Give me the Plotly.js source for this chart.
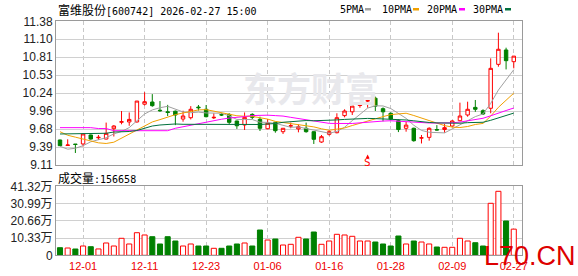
<!DOCTYPE html>
<html><head><meta charset="utf-8">
<script src="https://cdn.plot.ly/plotly-3.0.1.min.js"></script>
<style>html,body{margin:0;padding:0;background:#fff;}#chart{width:578px;height:276px;}</style>
</head><body><div id="chart"></div>
<script>
const dates = ['11-26','11-27','11-28','12-01','12-02','12-03','12-04','12-05','12-08','12-09','12-10','12-11','12-12','12-15','12-16','12-17','12-18','12-19','12-22','12-23','12-24','12-25','12-26','12-29','12-30','12-31','01-05','01-06','01-07','01-08','01-09','01-12','01-13','01-14','01-15','01-16','01-19','01-20','01-21','01-22','01-23','01-26','01-27','01-28','01-29','01-30','02-02','02-03','02-04','02-05','02-06','02-09','02-10','02-11','02-12','02-13','02-24','02-25','02-26','02-27'];
const openP = [9.505,9.418,9.44,9.442,9.584,9.54,9.52,9.683,9.785,9.79,9.79,10.07,10.105,9.975,9.95,9.96,9.836,9.857,10.025,9.99,9.855,9.905,9.91,9.805,9.742,9.91,9.832,9.683,9.785,9.636,9.725,9.68,9.69,9.636,9.473,9.595,9.62,9.89,9.95,10.05,10.12,10.165,10.0,9.927,9.81,9.69,9.69,9.535,9.547,9.67,9.67,9.726,9.81,9.90,10.02,9.968,10.006,10.70,10.927,10.742];
const highP = [9.51,9.516,9.44,9.60,9.59,9.584,9.78,9.74,9.963,9.94,10.12,10.26,10.23,10.12,10.06,9.97,9.968,10.04,10.058,10.058,9.927,9.927,9.927,9.81,9.94,9.927,9.873,9.836,9.79,9.69,9.78,9.75,9.78,9.64,9.584,9.663,9.927,9.99,10.085,10.095,10.137,10.19,10.02,9.94,9.83,9.794,9.70,9.584,9.705,9.74,9.757,9.82,10.095,10.11,10.137,9.99,10.795,11.20,10.963,10.83];
const lowP = [9.41,9.415,9.30,9.40,9.51,9.505,9.515,9.56,9.753,9.73,9.78,10.05,10.03,9.95,9.884,9.74,9.794,9.83,9.97,9.863,9.836,9.884,9.758,9.68,9.663,9.836,9.647,9.674,9.62,9.60,9.69,9.626,9.62,9.442,9.46,9.574,9.61,9.863,9.90,10.015,10.015,9.963,9.80,9.82,9.63,9.636,9.478,9.45,9.494,9.655,9.62,9.715,9.80,9.873,9.95,9.90,9.927,10.663,10.62,10.637];
const closeP = [9.415,9.426,9.435,9.60,9.52,9.547,9.61,9.726,9.794,9.83,10.12,10.11,10.047,9.968,9.94,9.90,9.884,9.99,10.015,9.873,9.863,9.90,9.784,9.73,9.863,9.863,9.69,9.77,9.652,9.69,9.73,9.714,9.636,9.516,9.557,9.636,9.857,9.963,10.04,10.058,10.126,10.04,9.95,9.836,9.67,9.74,9.494,9.54,9.69,9.663,9.70,9.805,9.884,9.99,9.99,9.916,10.637,10.938,10.758,10.83];
const ma5 = [9.405,9.36,9.374,9.415,9.477,9.503,9.541,9.601,9.639,9.701,9.816,9.916,9.980,10.015,10.037,9.993,9.948,9.936,9.946,9.932,9.925,9.928,9.887,9.830,9.828,9.828,9.786,9.783,9.768,9.733,9.706,9.711,9.684,9.657,9.631,9.612,9.640,9.706,9.811,9.911,10.009,10.045,10.043,10.002,9.924,9.847,9.738,9.656,9.627,9.625,9.617,9.680,9.748,9.808,9.874,9.917,10.083,10.294,10.448,10.616];
const ma10 = [9.636,9.58,9.55,9.515,9.49,9.46,9.45,9.47,9.535,9.589,9.660,9.729,9.790,9.827,9.869,9.905,9.932,9.958,9.980,9.985,9.959,9.938,9.912,9.888,9.880,9.877,9.857,9.835,9.799,9.781,9.767,9.749,9.734,9.712,9.682,9.659,9.676,9.695,9.734,9.771,9.810,9.843,9.874,9.906,9.918,9.928,9.892,9.849,9.814,9.775,9.732,9.709,9.702,9.718,9.750,9.767,9.882,10.021,10.128,10.245];
const ma20 = [9.70,9.70,9.70,9.70,9.70,9.686,9.686,9.652,9.652,9.652,9.652,9.652,9.652,9.652,9.652,9.69,9.715,9.74,9.765,9.787,9.809,9.833,9.851,9.858,9.875,9.891,9.895,9.897,9.890,9.883,9.863,9.843,9.823,9.800,9.781,9.768,9.766,9.765,9.766,9.776,9.789,9.796,9.804,9.809,9.800,9.794,9.784,9.772,9.774,9.773,9.771,9.776,9.788,9.812,9.834,9.848,9.887,9.935,9.971,10.010];
const ma30 = [9.60,9.60,9.60,9.611,9.611,9.611,9.611,9.631,9.631,9.639,9.655,9.69,9.726,9.742,9.753,9.758,9.753,9.753,9.753,9.753,9.747,9.742,9.742,9.742,9.742,9.742,9.75,9.758,9.765,9.785,9.795,9.805,9.812,9.809,9.810,9.813,9.822,9.830,9.838,9.845,9.846,9.843,9.840,9.836,9.827,9.821,9.808,9.793,9.782,9.775,9.770,9.767,9.770,9.779,9.783,9.785,9.816,9.855,9.892,9.930];
const volume = [4.55,4.37,3.77,5.57,5.15,3.8,7.37,5.57,10.18,6.77,13.53,12.16,11.14,6.77,11.14,8.56,5.57,6.77,5.57,5.57,4.19,4.19,5.57,6.77,7.37,5.57,15.15,9.16,9.76,6.17,6.59,10.78,9.76,13.95,6.59,8.56,12.57,12.16,11.38,8.56,8.56,7.96,6.77,5.57,11.56,6.77,8.56,7.96,6.77,4.97,4.79,4.79,10.18,8.56,7.54,5.57,31.14,38.32,20.54,15.6658];
const tickDates = ['12-01','12-11','12-23','01-06','01-16','01-28','02-09','02-27'];
const priceTickVals = [9.11,9.39375,9.6775,9.96125,10.245,10.52875,10.8125,11.09625,11.38];
const priceTickText = ['9.11','9.39','9.68','9.96','10.24','10.53','10.81','11.10','11.38'];
const volTickVals = [0,10.33,20.66,30.99,41.32];
const volTickText = ['0','10.33万','20.66万','30.99万','41.32万'];
const maNames = ['5PMA','10PMA','20PMA','30PMA'];
const maColors = ['#a0a0a0','#f0a000','#ff00ff','#00703c'];
const signalDates = ['01-23'];
const stockName = '富维股份';
const stockCode = '600742';
const stamp = '2026-02-27 15:00';

const W = 578, H = 276;
const px = v => v / W, py = v => 1 - v / H;
const RED = '#ff0000', GREEN = '#008000';

const up = closeP.map((c, i) => c > openP[i] || (c === openP[i] && (i === 0 || c >= closeP[i - 1])));

const traces = [];
traces.push({
  type: 'candlestick', x: dates, open: openP, high: highP, low: lowP, close: closeP,
  xaxis: 'x', yaxis: 'y', whiskerwidth: 0, hoverinfo: 'skip',
  increasing: {line: {color: RED, width: 1}, fillcolor: '#ffffff'},
  decreasing: {line: {color: GREEN, width: 1}, fillcolor: GREEN}
});
[ma5, ma10, ma20, ma30].forEach((m, k) => {
  traces.push({type: 'scatter', mode: 'lines', x: dates, y: m, xaxis: 'x', yaxis: 'y',
    line: {color: maColors[k], width: 1}, hoverinfo: 'skip', name: maNames[k]});
});
traces.push({
  type: 'bar', x: dates, y: volume, xaxis: 'x2', yaxis: 'y2', hoverinfo: 'skip',
  marker: {color: up.map(u => u ? '#ffffff' : GREEN), line: {color: up.map(u => u ? RED : GREEN), width: 1}}
});

const gridC = '#d0d0d0', frameC = '#9a9a9a';
const tickFont = {family: 'Liberation Sans, Arial, Noto Sans CJK SC', size: 12, color: '#222'};
const xRange = [-0.52, 60.07];
const xBase = {type: 'category', range: xRange, tickvals: tickDates, ticktext: tickDates,
  showgrid: true, gridcolor: '#c8c8c8', griddash: '4px,3px', showline: true, mirror: true,
  linecolor: frameC, linewidth: 1, zeroline: false, ticks: '', fixedrange: true};

const annotations = [];
annotations.push({xref: 'paper', yref: 'paper', x: px(56), y: py(9.5), xanchor: 'left', yanchor: 'middle', showarrow: false,
  text: "<span style=\"font-family:'Noto Sans CJK SC';font-size:12px\">" + stockName + "</span>[" + stockCode + "] " + stamp,
  font: {family: 'DejaVu Sans Mono', size: 10, color: '#000'}});
annotations.push({xref: 'paper', yref: 'paper', x: px(56), y: py(177), xanchor: 'left', yanchor: 'middle', showarrow: false,
  text: "<span style=\"font-family:'Noto Sans CJK SC';font-size:12px\">成交量</span>:" + Math.round(volume[volume.length - 1] * 10000),
  font: {family: 'DejaVu Sans Mono', size: 10, color: '#000'}});
const legX = [338, 380, 425, 471];
const legMarkX = [365, 413, 459, 505];
const shapes = [];
maNames.forEach((n, k) => {
  annotations.push({xref: 'paper', yref: 'paper', x: px(legX[k]), y: py(9.5), xanchor: 'left', yanchor: 'middle', showarrow: false,
    text: n, font: {family: 'DejaVu Sans Mono', size: 10, color: '#000'}});
  shapes.push({type: 'rect', xref: 'paper', yref: 'paper', x0: px(legMarkX[k]), x1: px(legMarkX[k] + 6), y0: py(10.5), y1: py(8), fillcolor: maColors[k], line: {width: 0}});
});
// watermark
annotations.push({xref: 'paper', yref: 'paper', x: px(311), y: py(87), xanchor: 'center', yanchor: 'middle', showarrow: false,
  text: '<b>东方财富</b>', font: {family: 'Noto Sans CJK SC', size: 34, color: '#e8e8ec'}});
// signal marks: "S" with a small up arrow above it
signalDates.forEach(d => {
  annotations.push({xref: 'x', yref: 'y', x: d, y: 9.275, showarrow: true, ax: 0, ay: 8, text: 'S',
    arrowhead: 2, arrowsize: 0.7, arrowwidth: 1, arrowcolor: RED, standoff: 0, startstandoff: 0,
    font: {family: 'DejaVu Sans Mono', size: 11, color: RED}, borderpad: 0});
});
annotations.push({xref: 'paper', yref: 'paper', x: px(482), y: py(256), xanchor: 'left', yanchor: 'middle', showarrow: false,
  text: 'L70.CN', font: {family: 'Liberation Sans, Arial', size: 27, color: '#dd0000'}});

const layout = {
  width: W, height: H, margin: {l: 0, r: 0, t: 0, b: 0},
  paper_bgcolor: '#fff', plot_bgcolor: '#fff', showlegend: false,
  boxgap: 0.36, bargap: 0.34, hovermode: false,
  xaxis: Object.assign({}, xBase, {domain: [px(56), px(522)], anchor: 'y', showticklabels: false, rangeslider: {visible: false}}),
  yaxis: {domain: [py(165), py(21.3)], range: [9.11, 11.38], tickvals: priceTickVals, ticktext: priceTickText,
    showgrid: true, gridcolor: gridC, showline: true, mirror: true, linecolor: frameC, zeroline: false, ticks: '',
    tickfont: tickFont, anchor: 'x', fixedrange: true},
  xaxis2: Object.assign({}, xBase, {domain: [px(56), px(522)], anchor: 'y2', showticklabels: true,
    tickfont: {family: 'Liberation Sans, Arial', size: 11, color: '#ee0000'}}),
  yaxis2: {domain: [py(255.3), py(186.3)], range: [0, 41.32], tickvals: volTickVals, ticktext: volTickText,
    showgrid: true, gridcolor: gridC, showline: true, mirror: true, linecolor: frameC, zeroline: false, ticks: '',
    tickfont: tickFont, anchor: 'x2', fixedrange: true},
  annotations: annotations, shapes: shapes
};
Plotly.newPlot('chart', traces, layout, {staticPlot: true, displayModeBar: false});
</script></body></html>
